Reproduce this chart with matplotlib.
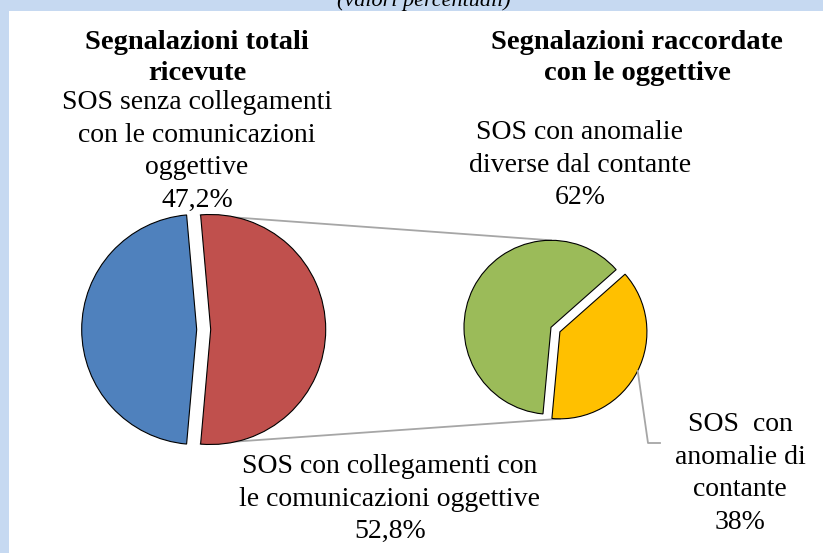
import numpy as np
import matplotlib
matplotlib.use("Agg")
import matplotlib.pyplot as plt
from matplotlib.patches import Rectangle

W, H = 823, 553

FRAME = "#c6d9f1"
LINE = "#a6a6a6"

# left pie: totals (red slice is broken out into the right pie)
left_labels = ["SOS con collegamenti con\nle comunicazioni oggettive\n52,8%",
               "SOS senza collegamenti\ncon le comunicazioni\noggettive\n47,2%"]
left_values = [52.8, 47.2]
left_colors = ["#c0504d", "#4f81bd"]

# right pie: breakdown of the linked reports
right_labels = ["SOS  con\nanomalie di\ncontante\n38%",
                "SOS con anomalie\ndiverse dal contante\n62%"]
right_values = [38, 62]
right_colors = ["#ffc000", "#9bbb59"]

titles = ["Segnalazioni totali\nricevute", "Segnalazioni raccordate\ncon le oggettive"]

plt.rcParams["font.family"] = ["Liberation Serif", "DejaVu Serif"]


def Y(y):
    return H - y


def pt(w, deg):
    a = np.deg2rad(deg)
    return w.center[0] + w.r * np.cos(a), w.center[1] + w.r * np.sin(a)


fig = plt.figure(figsize=(W / 100, H / 100), dpi=100)
fig.patch.set_facecolor(FRAME)
ax = fig.add_axes([0, 0, 1, 1])
ax.add_patch(Rectangle((9, 0), W - 9, Y(11), facecolor="white", edgecolor="none", zorder=0))

# explode is in data units here (pixels)
wl, _ = ax.pie(left_values, colors=left_colors, startangle=-95.04, radius=115,
               center=(203.7, Y(329.5)), explode=[7, 7],
               wedgeprops=dict(edgecolor="black", linewidth=0.8))
wr, _ = ax.pie(right_values, colors=right_colors, startangle=-95.3, radius=87,
               center=(551, Y(327.3)), explode=[10, 0],
               wedgeprops=dict(edgecolor="black", linewidth=0.8))

# connector lines from the broken-out slice to the second pie
red, yellow, green = wl[0], wr[0], wr[1]
x0, y0 = pt(red, red.theta2)
x1, y1 = pt(green, 90)
ax.plot([x0, x1], [y0, y1], color=LINE, lw=1.3, zorder=0.5)
x0, y0 = pt(red, red.theta1)
x1, y1 = pt(yellow, -90)
ax.plot([x0, x1], [y0, y1], color=LINE, lw=1.3, zorder=0.5)

# leader line for the yellow label
lx, ly = pt(yellow, -26.6)
ax.plot([lx, 648, 660], [ly, Y(443), Y(443)], color=LINE, lw=1.3)

ax.set_xlim(0, W)
ax.set_ylim(0, H)
ax.set_aspect("equal")
ax.axis("off")

fs = 20
ax.text(197, Y(58), titles[0], ha="center", va="center", fontsize=20.5,
        fontweight="bold", linespacing=1.3)
ax.text(637, Y(58), titles[1], ha="center", va="center", fontsize=20.5,
        fontweight="bold", linespacing=1.3)

ls = 1.4
ax.text(197, Y(151.5), left_labels[1], ha="center", va="center", fontsize=fs, linespacing=ls)
ax.text(390, Y(499), left_labels[0], ha="center", va="center", fontsize=fs, linespacing=ls)
ax.text(580, Y(165), right_labels[1], ha="center", va="center", fontsize=fs, linespacing=ls)
ax.text(740, Y(473.5), right_labels[0], ha="center", va="center", fontsize=fs, linespacing=ls)

ax.text(424, Y(11), "(valori percentuali)", ha="center", va="bottom", fontsize=16,
        style="italic", clip_on=False)

fig.savefig("out.png", dpi=100, facecolor=FRAME)
